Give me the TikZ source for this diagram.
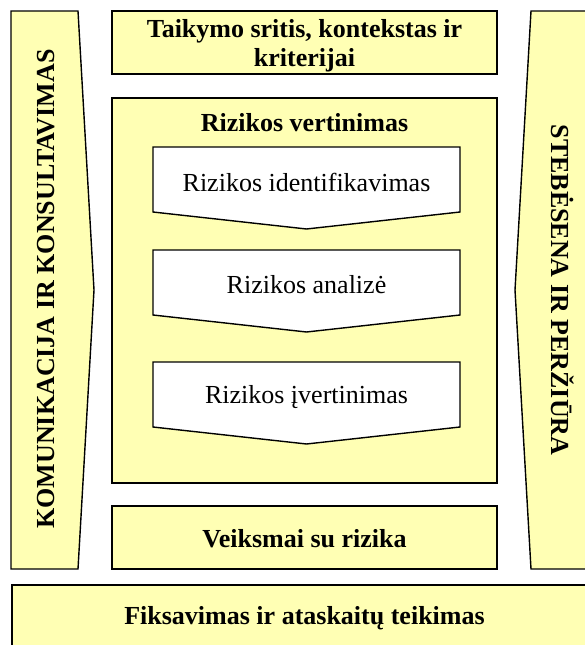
\documentclass[tikz,border=0pt]{standalone}
\usepackage{fontspec}
\setmainfont{Liberation Serif}
\definecolor{pyellow}{HTML}{FFFFB4}

\begin{document}
\begin{tikzpicture}[x=1pt, y=-1pt,
    band/.style={draw=black, fill=pyellow, line width=1.4pt},
    head/.style={font=\fontsize{26}{29}\selectfont\bfseries, align=center},
    stage/.style={font=\fontsize{26}{29}\selectfont}]
  \useasboundingbox (0,0) rectangle (585,645);
  \clip (0,0) rectangle (585,645);

  % side bands
  \draw[band] (11,11) -- (78,11) -- (94,290) -- (78,569) -- (11,569) -- cycle;
  \draw[band] (600,11) -- (531,11) -- (515,290) -- (531,569) -- (600,569) -- cycle;
  \node[head, rotate=90] (komun) at (46,289) {KOMUNIKACIJA IR KONSULTAVIMAS};
  \node[head, rotate=-90] (steb) at (563,290) {STEB\.ESENA IR PER\v{Z}I\=URA};

  % middle column
  \node[band, minimum width=385, minimum height=63] (scope) at (304.5,42.5)
    {}; \node[head] (scopetxt) at (304.5,45.5) {Taikymo sritis, kontekstas ir\\kriterijai};
  \draw[band] (112,98) rectangle (497,483);
  \node[head] (assess) at (304.5,123) {Rizikos vertinimas};
  \node[band, minimum width=385, minimum height=63] (treat) at (304.5,537.5) {};
  \node[head] (treattxt) at (304.5,539) {Veiksmai su rizika};

  % steps: name, top, text
  \foreach \nm/\y/\txt in {%
    ident/147/Rizikos identifikavimas,
    anal/250/Rizikos analiz\.e,
    eval/362/Rizikos \k{i}vertinimas}{
      \draw[band, fill=white] (153,\y) -- (460,\y) -- (460,\y+65)
        -- (306.5,\y+82) -- (153,\y+65) -- cycle;
      \node[stage] (\nm) at (306.5,\y+35) {\txt};
  }

  % bottom band
  \draw[band] (12,585) rectangle (600,660);
  \node[head] (record) at (304.5,618) {Fiksavimas ir ataskait\k{u} teikimas};
\end{tikzpicture}
\end{document}
